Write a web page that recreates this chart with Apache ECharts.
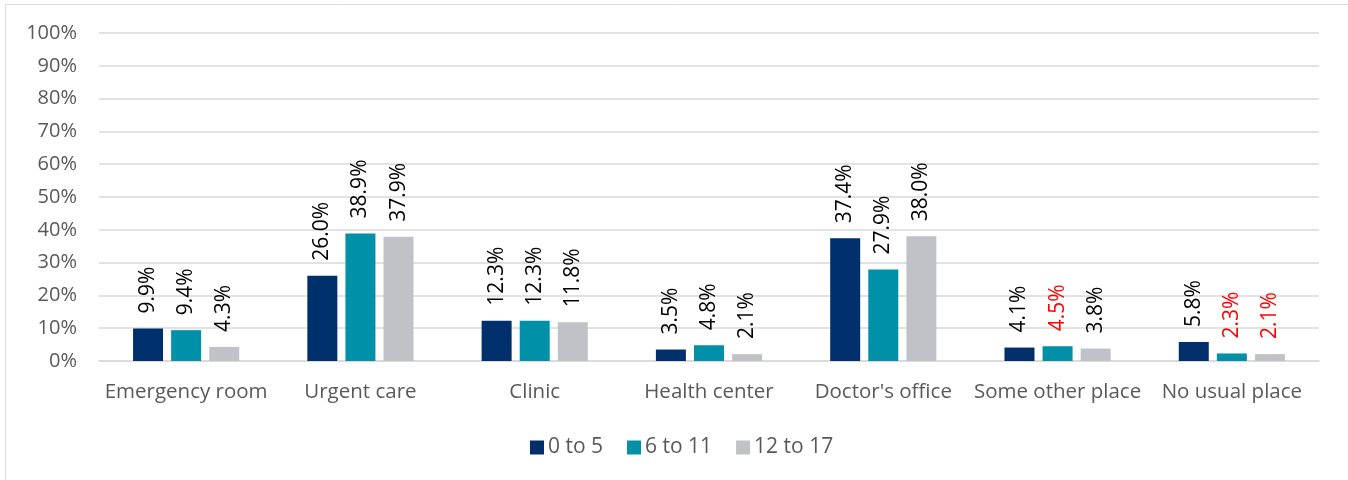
<!DOCTYPE html>
<html>
<head>
<meta charset="utf-8">
<script src="https://cdn.jsdelivr.net/npm/echarts@6/dist/echarts.min.js"></script>
<style>
  html, body { margin: 0; padding: 0; background: #fff; }
  #chart { width: 1348px; height: 480px; }
</style>
</head>
<body>
<div id="chart"></div>
<script>
// categories and values (percent)
var categories = ['Emergency room', 'Urgent care', 'Clinic', 'Health center', "Doctor's office", 'Some other place', 'No usual place'];
var seriesNames = ['0 to 5', '6 to 11', '12 to 17'];
var age0to5 = [9.9, 26.0, 12.3, 3.5, 37.4, 4.1, 5.8];
var age6to11 = [9.4, 38.9, 12.3, 4.8, 27.9, 4.5, 2.3];
var age12to17 = [4.3, 37.9, 11.8, 2.1, 38.0, 3.8, 2.1];
// labels shown in red (unreliable estimates)
var redLabels6to11 = [false, false, false, false, false, true, true];
var redLabels12to17 = [false, false, false, false, false, false, true];
var yTicks = [0, 10, 20, 30, 40, 50, 60, 70, 80, 90, 100];

var colors = ['#00306b', '#0090a8', '#bfc3c7'];
var font = 'Open Sans';

function toData(vals, red) {
  return vals.map(function (v, i) {
    var d = { value: v };
    if (red && red[i]) d.label = { color: '#ff0000' };
    return d;
  });
}

var chart = echarts.init(document.getElementById('chart'));

function makeSeries(name, vals, red) {
  return {
    name: name,
    type: 'bar',
    barWidth: 30,
    barGap: '27%',
    data: toData(vals, red),
    label: {
      show: true,
      position: 'top',
      rotate: 90,
      align: 'left',
      verticalAlign: 'middle',
      distance: 15,
      color: '#000',
      fontFamily: font,
      fontSize: 21,
      formatter: function (p) { return p.value.toFixed(1) + '%'; }
    }
  };
}

var option = {
  color: colors,
  animation: false,
  graphic: [{
    type: 'rect',
    shape: { x: 5.5, y: 4.5, width: 1400, height: 520 },
    style: { fill: 'none', stroke: '#d9d9d9', lineWidth: 1 },
    silent: true
  }],
  legend: {
    bottom: 17,
    left: 525,
    icon: 'rect',
    itemWidth: 14,
    itemHeight: 14,
    itemGap: 24,
    textStyle: { color: '#595959', fontFamily: font, fontSize: 21, padding: [0, 0, 0, -1] },
    data: seriesNames
  },
  grid: {
    left: 99,
    right: 29,
    top: 33,
    bottom: 119
  },
  xAxis: {
    type: 'category',
    data: categories,
    axisTick: { show: false },
    axisLine: { lineStyle: { color: '#d9d9d9', width: 1.5 } },
    axisLabel: { color: '#595959', fontFamily: font, fontSize: 20.5, margin: 21, interval: 0 }
  },
  yAxis: {
    type: 'value',
    min: yTicks[0],
    max: yTicks[yTicks.length - 1],
    interval: 10,
    axisLine: { show: false },
    axisTick: { show: false },
    splitLine: { lineStyle: { color: '#d9d9d9', width: 1.5 } },
    axisLabel: { color: '#595959', fontFamily: font, fontSize: 20, margin: 22, formatter: '{value}%' }
  },
  series: [
    makeSeries(seriesNames[0], age0to5, null),
    makeSeries(seriesNames[1], age6to11, redLabels6to11),
    makeSeries(seriesNames[2], age12to17, redLabels12to17)
  ]
};

chart.setOption(option);
</script>
</body>
</html>
